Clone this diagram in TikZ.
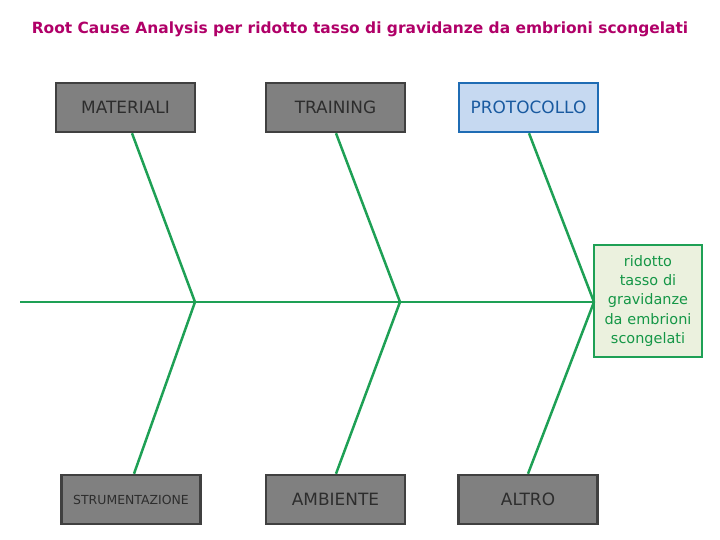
\documentclass[tikz,border=0pt]{standalone}
\usepackage{fontspec}
\setmainfont{DejaVu Sans}
\definecolor{titlec}{RGB}{176,0,104}
\definecolor{bone}{RGB}{30,160,85}
\definecolor{boxfill}{RGB}{128,128,128}
\definecolor{boxline}{RGB}{64,64,64}
\definecolor{boxtext}{RGB}{45,45,45}
\definecolor{protofill}{RGB}{198,217,241}
\definecolor{protoline}{RGB}{31,108,180}
\definecolor{prototext}{RGB}{25,90,160}
\definecolor{efffill}{RGB}{235,241,222}
\definecolor{efftext}{RGB}{20,150,70}
\begin{document}
\begin{tikzpicture}[x=1bp,y=-1bp,
  cause/.style={draw=boxline,fill=boxfill,line width=2.5pt,minimum width=139bp,minimum height=49bp,inner sep=0pt,font=\fontsize{17}{20}\selectfont,text=boxtext},
  bonel/.style={draw=bone,line width=2.5pt}]
\useasboundingbox (0,0) rectangle (720,540);
\node[text=titlec,font=\bfseries\fontsize{15.5}{18}\selectfont] (title) at (360,29) {Root Cause Analysis per ridotto tasso di gravidanze da embrioni scongelati};
\node[cause] (mat) at (125.5,107.5) {MATERIALI};
\node[cause] (tra) at (335.5,107.5) {TRAINING};
\node[cause,draw=protoline,fill=protofill,text=prototext] (pro) at (528.5,107.5) {PROTOCOLLO};
\node[cause,font=\fontsize{12.5}{14}\selectfont] (str) at (131,499.5) {STRUMENTAZIONE};
\node[cause] (amb) at (335.5,499.5) {AMBIENTE};
\node[cause] (alt) at (528,499.5) {ALTRO};
\node[draw=bone,fill=efffill,line width=2.5pt,minimum width=108bp,minimum height=112bp,text width=106bp,align=center,inner sep=0pt,text=efftext,font=\fontsize{14.5}{19.5}\selectfont] (eff) at (648,301) {ridotto\\tasso di\\gravidanze\\da embrioni\\scongelati};
\coordinate (s0) at (20,302);
\coordinate (j1) at (195,302);
\coordinate (j2) at (400,302);
\coordinate (j3) at (594,302);
\draw[bonel] (s0) -- (eff.west |- s0);
\draw[bonel] (mat.south -| 132,0) -- (j1);
\draw[bonel] (tra.south -| 336,0) -- (j2);
\draw[bonel] (pro.south -| 529,0) -- (j3);
\draw[bonel] (str.north -| 134,0) -- (j1);
\draw[bonel] (amb.north -| 336,0) -- (j2);
\draw[bonel] (alt.north -| 528,0) -- (j3);
\end{tikzpicture}
\end{document}
